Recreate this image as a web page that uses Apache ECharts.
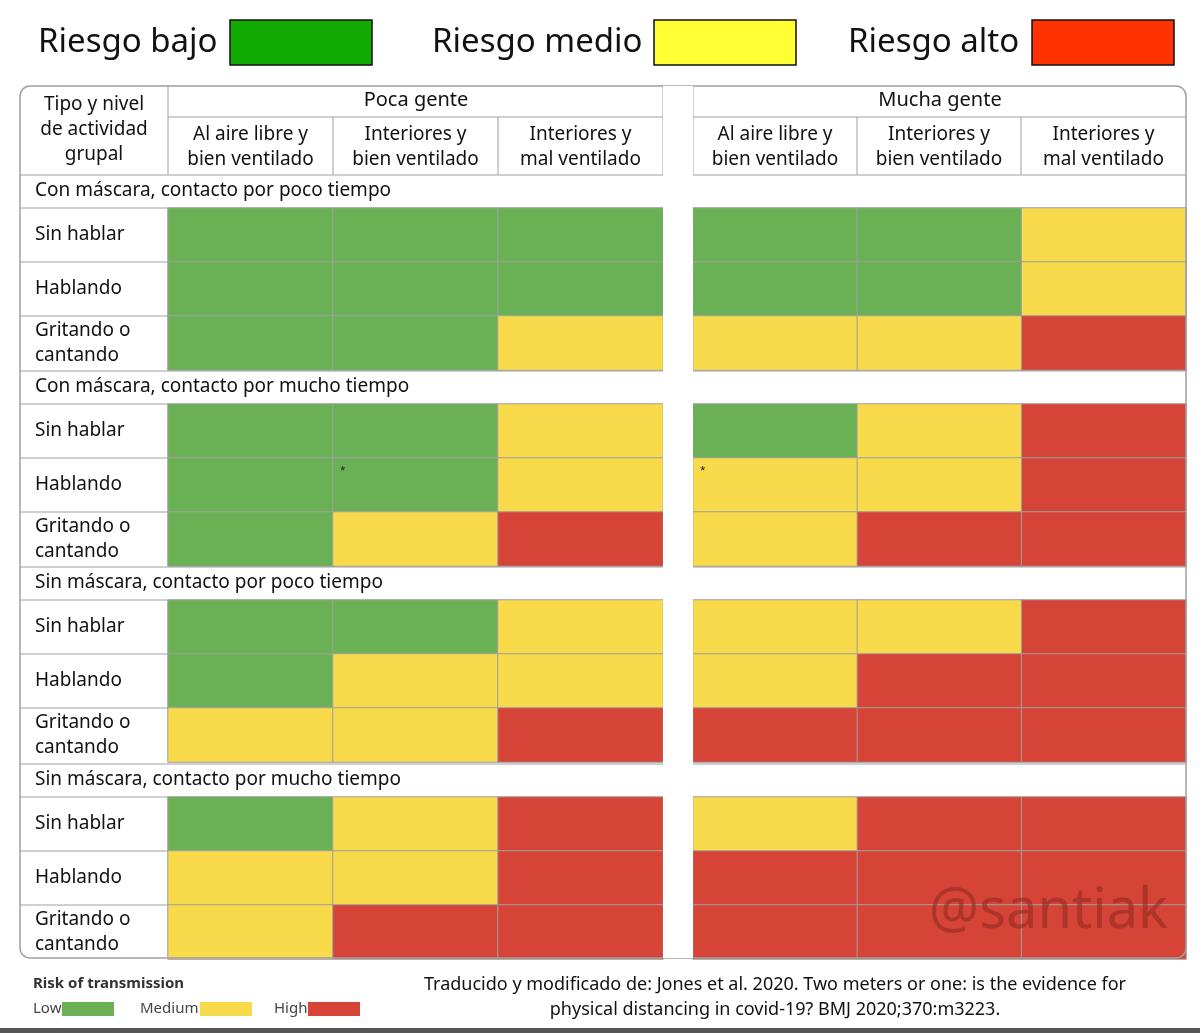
<!DOCTYPE html>
<html><head><meta charset="utf-8">
<script src="https://cdn.jsdelivr.net/npm/echarts@6/dist/echarts.min.js"></script>
<style>html,body{margin:0;background:#fff}#c{width:1200px;height:1033px}</style>
</head><body><div id="c"></div>
<script>
// 数据
const columns = ["Al aire libre y\nbien ventilado", "Interiores y\nbien ventilado", "Interiores y\nmal ventilado"];
const groups = ["Poca gente", "Mucha gente"];
const activities = ["Sin hablar", "Hablando", "Gritando o\ncantando"];
const sections = [
  "Con máscara, contacto por poco tiempo",
  "Con máscara, contacto por mucho tiempo",
  "Sin máscara, contacto por poco tiempo",
  "Sin máscara, contacto por mucho tiempo"
];
// 0 = bajo, 1 = medio, 2 = alto ; each row: 3 poca gente + 3 mucha gente
const risk = [
  [[0,0,0,0,0,1],[0,0,0,0,0,1],[0,0,1,1,1,2]],
  [[0,0,1,0,1,2],[0,0,1,1,1,2],[0,1,2,1,2,2]],
  [[0,0,1,1,1,2],[0,1,1,1,2,2],[1,1,2,2,2,2]],
  [[0,1,2,1,2,2],[1,1,2,2,2,2],[1,2,2,2,2,2]]
];
// asterisk cells: [section, row, col]
const starred = [[1,1,1],[1,1,3]];
const riskColors = ["#6ab155", "#f8da4b", "#d64337"];

const font = "Noto Sans";
const sectionTops = [208, 404, 600, 797];
const rowH = 54;

const grids = [], xAxes = [], yAxes = [], series = [];
sections.forEach((s, si) => {
  [0, 1].forEach(g => {
    const idx = grids.length;
    grids.push({ left: g ? 693 : 168, width: g ? 493 : 495, top: sectionTops[si], height: rowH * 3 });
    xAxes.push({ gridIndex: idx, type: "category", data: columns, show: false });
    yAxes.push({
      gridIndex: idx, type: "category", data: activities, inverse: true,
      axisLine: { show: false }, axisTick: { show: false },
      axisLabel: { show: g === 0, align: "left", margin: 133, fontFamily: font, fontSize: 19, color: "#111", lineHeight: 25 }
    });
    const data = [];
    risk[si].forEach((row, r) => {
      for (let c = 0; c < 3; c++) {
        const star = starred.some(a => a[0] === si && a[1] === r && a[2] === c + g * 3);
        data.push({ value: [c, r, row[c + g * 3]], star });
      }
    });
    series.push({
      type: "heatmap", xAxisIndex: idx, yAxisIndex: idx, data,
      itemStyle: { borderColor: "#a0a0a0", borderWidth: 1 },
      label: {
        show: true, position: "insideTopLeft", distance: 8, fontSize: 13, color: "#222",
        formatter: p => (p.data.star ? "*" : "")
      },
      emphasis: { disabled: true }
    });
  });
});

const graphic = [];
const line = (x1, y1, x2, y2) => graphic.push({ type: "line", shape: { x1, y1, x2, y2 }, style: { stroke: "#a0a0a0", lineWidth: 1 }, silent: true });
const text = (x, y, t, o) => graphic.push({ type: "text", x, y, style: Object.assign({ text: t, fontFamily: font, fontSize: 19, fill: "#111", textVerticalAlign: "middle" }, o || {}), z: 10 });

// 顶部图例
[["Riesgo bajo", 38, 230, "#11aa00"], ["Riesgo medio", 432, 654, "#ffff33"], ["Riesgo alto", 848, 1032, "#ff3300"]].forEach(l => {
  text(l[1], 43, l[0], { fontSize: 33 });
  graphic.push({ type: "rect", shape: { x: l[2], y: 20, width: 142, height: 45 }, style: { fill: l[3], stroke: "#111", lineWidth: 1.5 } });
});

// 表格边框
graphic.push({ type: "rect", shape: { x: 20, y: 86, width: 1166, height: 872, r: 10 }, style: { fill: "none", stroke: "#a0a0a0", lineWidth: 1.5 }, z: 5 });
graphic.push({ type: "rect", shape: { x: 663, y: 86, width: 30, height: 872 }, style: { fill: "#fff" }, z: 6 });
line(168, 86, 168, 175); line(663, 86, 663, 175); line(693, 86, 693, 175);
line(168, 117, 663, 117); line(693, 117, 1186, 117);
[333, 498, 857, 1021].forEach(x => line(x, 117, x, 175));
text(94, 130, "Tipo y nivel\nde actividad\ngrupal", { textAlign: "center", lineHeight: 25 });
text(416, 100, groups[0], { textAlign: "center", fontSize: 20 });
text(940, 100, groups[1], { textAlign: "center", fontSize: 20 });
[[168, 333], [333, 498], [498, 663], [693, 857], [857, 1021], [1021, 1186]].forEach((c, i) => {
  text((c[0] + c[1]) / 2, 147, columns[i % 3], { textAlign: "center", lineHeight: 25 });
});
sectionTops.forEach((t, i) => {
  line(20, t - 33, 663, t - 33); line(693, t - 33, 1186, t - 33);
  line(20, t, 168, t);
  line(20, t + rowH, 168, t + rowH); line(20, t + rowH * 2, 168, t + rowH * 2);
  text(35, t - 17, sections[i]);
});

// 底部
text(33, 984, "Risk of transmission", { fontSize: 15, fontWeight: "bold", fill: "#333" });
[["Low", 33, 62], ["Medium", 140, 200], ["High", 274, 308]].forEach((l, i) => {
  text(l[1], 1009, l[0], { fontSize: 15, fill: "#444" });
  graphic.push({ type: "rect", shape: { x: l[2], y: 1002, width: 52, height: 14 }, style: { fill: riskColors[i] } });
});
text(775, 985, "Traducido y modificado de: Jones et al. 2020. Two meters or one: is the evidence for", { textAlign: "center", fontSize: 18 });
text(775, 1010, "physical distancing in covid-19? BMJ 2020;370:m3223.", { textAlign: "center", fontSize: 18 });
text(1168, 912, "@santiak", { textAlign: "right", fontSize: 56, fill: "rgba(140,40,30,0.55)" });
graphic.push({ type: "rect", shape: { x: 0, y: 1028, width: 1200, height: 5 }, style: { fill: "#555" } });

const chart = echarts.init(document.getElementById("c"));
chart.setOption({
  animation: false,
  grid: grids, xAxis: xAxes, yAxis: yAxes, series,
  visualMap: { show: false, type: "piecewise", dimension: 2, seriesIndex: series.map((s, i) => i),
    pieces: [{ value: 0, color: riskColors[0] }, { value: 1, color: riskColors[1] }, { value: 2, color: riskColors[2] }] },
  graphic
});
</script></body></html>
